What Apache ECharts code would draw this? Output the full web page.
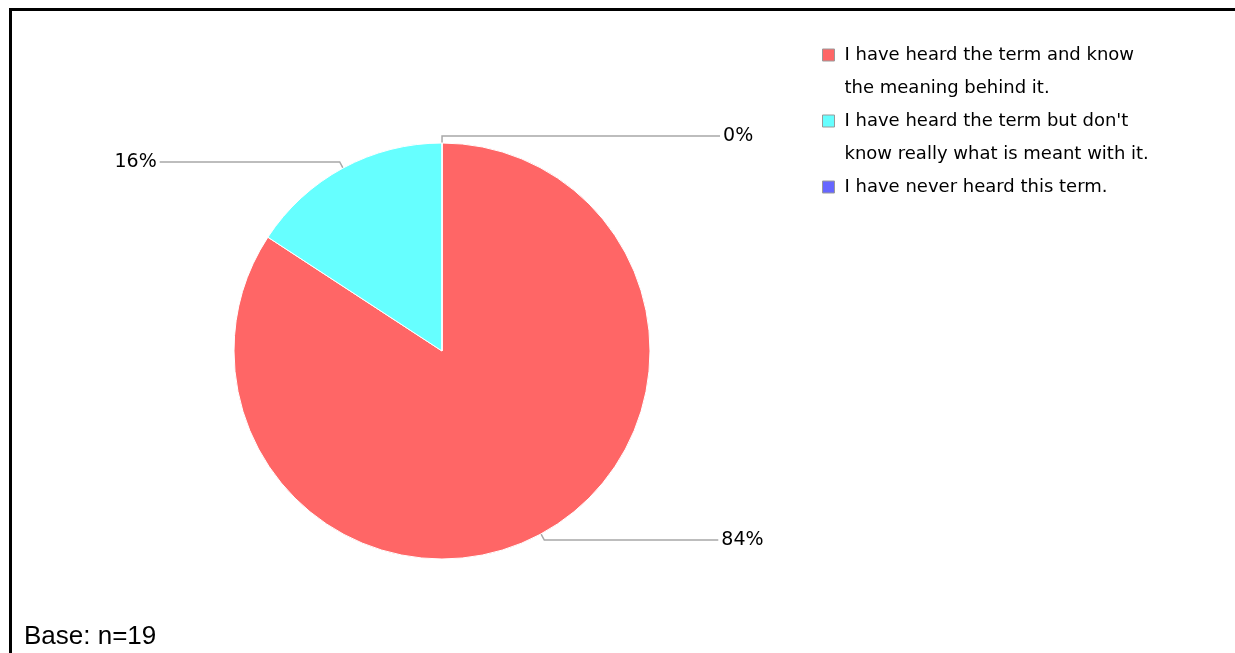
<!DOCTYPE html>
<html>
<head>
<meta charset="utf-8">
<script src="https://cdn.jsdelivr.net/npm/echarts@6/dist/echarts.min.js"></script>
<style>
  html, body { margin: 0; padding: 0; background: #fff; }
  #frame {
    position: absolute; left: 9px; top: 8px; right: 0; bottom: 0;
    border-top: 3px solid #000; border-left: 3px solid #000;
  }
  #chart { position: absolute; left: 0; top: 0; width: 1235px; height: 653px; }
</style>
</head>
<body>
<div id="frame"></div>
<div id="chart"></div>
<script>
// Survey answers (n = 19)
const categories = [
  'I have heard the term and know the meaning behind it.',
  "I have heard the term but don't know really what is meant with it.",
  'I have never heard this term.'
];
// legend text, wrapped onto lines
const legendLines = [
  ['I have heard the term and know', 'the meaning behind it.'],
  ["I have heard the term but don't", 'know really what is meant with it.'],
  ['I have never heard this term.']
];
const counts = [16, 3, 0];
const colors = ['#ff6666', '#66ffff', '#6666ff'];
const footnote = 'Base: n=19';

const chartFont = 'DejaVu Sans';
const LINE_H = 33;
// y of the first text line of each legend entry
const legendRows = [55, 121, 187];
// horizontal leader length for each slice label
const leaderLen = [174, 180, 278];

// One legend block per answer so the swatch lines up with the first text line.
// Blank lines are prepended so the centred text block puts line 1 beside the swatch.
const legends = categories.map(function (name, i) {
  const lines = legendLines[i];
  const extra = lines.length - 1;
  const blockH = LINE_H * (lines.length + extra);
  return {
    orient: 'vertical',
    left: 822,
    top: legendRows[i] - blockH / 2,
    padding: 0,
    itemWidth: 12,
    itemHeight: 12,
    icon: 'rect',
    selectedMode: false,
    itemStyle: { borderColor: '#9a9a9a', borderWidth: 1 },
    data: [name],
    formatter: function () {
      return new Array(extra + 1).join('\n') + lines.join('\n');
    },
    textStyle: {
      fontFamily: chartFont,
      fontSize: 18,
      color: '#000',
      lineHeight: LINE_H,
      padding: [0, 0, 0, 5]
    }
  };
});

const chart = echarts.init(document.getElementById('chart'), null, { renderer: 'canvas' });
chart.setOption({
  animation: false,
  backgroundColor: 'transparent',
  title: {
    text: footnote,
    left: 19,
    top: 619,
    textStyle: { fontFamily: 'Liberation Sans', fontSize: 26, fontWeight: 'normal', color: '#000' }
  },
  legend: legends,
  series: [{
    type: 'pie',
    left: 0,
    top: 0,
    width: 884,
    height: 702,
    center: ['50%', '50%'],
    radius: 208,
    // a hair under 90 keeps the empty slice's label on the right of 12 o'clock
    startAngle: 89.99,
    clockwise: true,
    avoidLabelOverlap: false,
    percentPrecision: 0,
    itemStyle: { borderColor: '#fff', borderWidth: 1 },
    label: {
      show: true,
      position: 'outside',
      formatter: '{d}%',
      fontFamily: chartFont,
      fontSize: 19,
      color: '#000',
      distanceToLabelLine: 3
    },
    labelLine: {
      show: true,
      length: 7,
      smooth: false,
      lineStyle: { color: '#a8a8a8', width: 1.5 }
    },
    emphasis: { disabled: true },
    data: categories.map(function (name, i) {
      return {
        name: name,
        value: counts[i],
        itemStyle: { color: colors[i] },
        labelLine: { length2: leaderLen[i] }
      };
    })
  }]
});
</script>
</body>
</html>
